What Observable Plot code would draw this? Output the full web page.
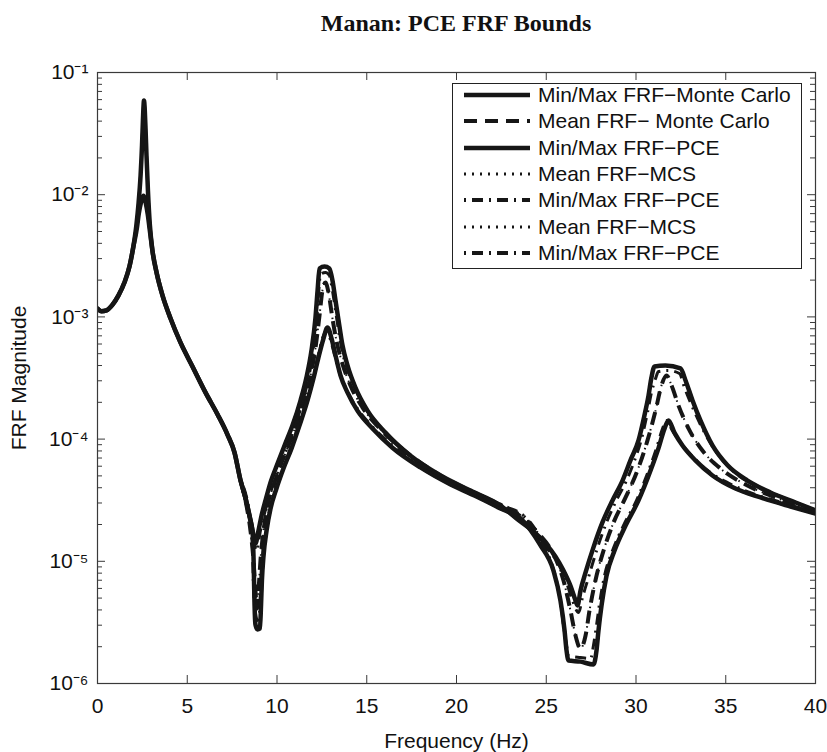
<!DOCTYPE html>
<html><head><meta charset="utf-8">
<script src="https://cdn.jsdelivr.net/npm/d3@7"></script>
<script src="https://cdn.jsdelivr.net/npm/@observablehq/plot@0.6"></script>
<style>
body{margin:0;background:#fff;}
#wrap{position:relative;width:827px;height:752px;overflow:hidden;background:#fff;font-family:'Liberation Sans',Arial,sans-serif;color:#111;}
#chart{position:absolute;left:0;top:0;}
#title{position:absolute;left:0;top:10px;width:912px;text-align:center;font:bold 24px 'Liberation Serif','Times New Roman',serif;color:#111;white-space:nowrap;}
#legend{position:absolute;left:452px;top:83px;width:350px;height:186px;border:1px solid #222;background:#fff;box-sizing:border-box;}
.lrow{position:absolute;left:0;height:26px;width:348px;}
.lrow svg{position:absolute;left:10px;top:0;}
.lrow span{position:absolute;left:85px;top:0;line-height:26px;font-size:21px;white-space:nowrap;}
</style></head>
<body><div id="wrap"><div id="chart"></div><div id="title">Manan: PCE FRF Bounds</div><div id="legend"></div></div>
<script>
// ---- data (frequency in Hz, FRF magnitude) ----
const headF = [0, 0.22, 0.5, 0.84, 1.17, 1.5, 1.78, 2.0];
const headM = [1.17e-3, 1.11e-3, 1.13e-3, 1.26e-3, 1.5e-3, 1.91e-3, 2.58e-3, 3.77e-3];

const peakMaxF = [2.17, 2.28, 2.40, 2.48, 2.53, 2.59, 2.67, 2.73, 2.81, 2.92];
const peakMaxM = [5.7e-3, 8.3e-3, 1.44e-2, 2.53e-2, 4.05e-2, 5.9e-2, 3.68e-2, 2.09e-2, 1.08e-2, 5.6e-3];

const peakMinF = [2.2, 2.3, 2.42, 2.56, 2.7, 2.8, 2.9];
const peakMinM = [5.4e-3, 7.0e-3, 8.6e-3, 9.8e-3, 8.4e-3, 6.9e-3, 5.3e-3];

const slopeF = [3.06, 3.29, 3.62, 4.07, 4.62, 5.29, 6.02, 6.69, 7.24, 7.63];
const slopeM = [3.49e-3, 2.31e-3, 1.50e-3, 9.7e-4, 6.18e-4, 3.93e-4, 2.40e-4, 1.59e-4, 1.09e-4, 7.8e-5];

const maxF = [7.97, 8.25, 8.47, 8.64, 8.80, 8.97, 9.14, 9.36, 9.64, 10.03, 10.42, 10.86, 11.31, 11.64, 11.92, 12.14, 12.26, 12.37, 12.65, 12.92, 13.09, 13.26, 13.43, 13.65, 13.93, 14.37, 15.04, 16.04, 17.44, 19.11, 20.78, 22.45, 23.34, 24.29, 24.96, 25.52, 25.96, 26.35, 26.63, 26.74, 26.91, 27.19, 27.63, 28.13, 28.69, 29.25, 29.69, 30.14, 30.47, 30.70, 30.86, 31.03, 31.64, 32.48, 32.76, 33.15, 33.59, 34.26, 35.10, 36.21, 37.49, 38.89, 40];
const maxM = [4.58e-5, 3.27e-5, 2.37e-5, 1.79e-5, 1.40e-5, 1.79e-5, 2.37e-5, 3.15e-5, 4.42e-5, 6.3e-5, 8.87e-5, 1.29e-4, 2.07e-4, 3.19e-4, 5.3e-4, 9.7e-4, 1.64e-3, 2.49e-3, 2.58e-3, 2.49e-3, 1.99e-3, 1.36e-3, 9.35e-4, 5.83e-4, 4.0e-4, 2.64e-4, 1.71e-4, 1.13e-4, 7.3e-5, 5.04e-5, 3.79e-5, 2.86e-5, 2.24e-5, 1.75e-5, 1.40e-5, 1.09e-5, 8.4e-6, 6.3e-6, 4.78e-6, 4.35e-6, 5.77e-6, 8.1e-6, 1.30e-5, 2.08e-5, 3.15e-5, 4.58e-5, 6.7e-5, 9.75e-5, 1.56e-4, 2.28e-4, 3.19e-4, 3.93e-4, 4.0e-4, 3.79e-4, 3.02e-4, 2.07e-4, 1.42e-4, 8.87e-5, 6.1e-5, 4.58e-5, 3.66e-5, 3.03e-5, 2.61e-5];

const minF = [7.97, 8.25, 8.47, 8.64, 8.69, 8.72, 8.75, 8.80, 8.91, 9.05, 9.11, 9.16, 9.25, 9.42, 9.64, 9.97, 10.36, 10.81, 11.25, 11.70, 12.03, 12.31, 12.59, 12.81, 13.04, 13.26, 13.54, 13.93, 14.48, 15.32, 16.43, 17.99, 19.67, 21.34, 22.45, 23.57, 24.68, 25.40, 25.79, 26.02, 26.13, 26.24, 26.91, 27.63, 27.80, 27.91, 28.08, 28.36, 28.80, 29.42, 30.14, 30.81, 31.25, 31.59, 31.81, 32.14, 32.59, 33.31, 34.26, 35.54, 36.94, 38.61, 40];
const minM = [4.58e-5, 3.27e-5, 2.33e-5, 1.72e-5, 1.11e-5, 6.97e-6, 4.35e-6, 3.04e-6, 2.77e-6, 2.82e-6, 4.35e-6, 6.97e-6, 1.11e-5, 1.79e-5, 2.70e-5, 3.94e-5, 5.74e-5, 8.4e-5, 1.29e-4, 2.07e-4, 3.13e-4, 4.66e-4, 6.65e-4, 8.2e-4, 6.65e-4, 4.83e-4, 3.31e-4, 2.40e-4, 1.71e-4, 1.22e-4, 8.5e-5, 5.86e-5, 4.25e-5, 3.27e-5, 2.70e-5, 2.24e-5, 1.35e-5, 8.4e-6, 4.78e-6, 2.72e-6, 1.86e-6, 1.54e-6, 1.51e-6, 1.43e-6, 1.86e-6, 2.72e-6, 4.35e-6, 7.66e-6, 1.22e-5, 1.96e-5, 3.15e-5, 5.53e-5, 8.4e-5, 1.22e-4, 1.42e-4, 1.13e-4, 8.87e-5, 6.7e-5, 5.04e-5, 3.94e-5, 3.33e-5, 2.81e-5, 2.46e-5];

const meanF = [7.97, 8.30, 8.52, 8.69, 8.80, 8.89, 8.97, 9.08, 9.25, 9.47, 9.81, 10.20, 10.64, 11.09, 11.53, 11.87, 12.14, 12.37, 12.53, 12.70, 12.87, 13.09, 13.31, 13.59, 14.09, 14.76, 15.77, 17.16, 18.83, 20.50, 22.17, 23.57, 24.57, 25.35, 25.96, 26.35, 26.63, 26.91, 27.19, 27.41, 27.74, 28.19, 28.75, 29.42, 30.08, 30.64, 31.09, 31.42, 31.70, 31.98, 32.37, 32.93, 33.70, 34.71, 36.10, 37.77, 40];
const meanM = [4.58e-5, 2.86e-5, 1.79e-5, 1.02e-5, 5.77e-6, 4.11e-6, 5.77e-6, 1.02e-5, 1.79e-5, 2.86e-5, 4.17e-5, 6.1e-5, 8.87e-5, 1.34e-4, 2.15e-4, 3.31e-4, 5.51e-4, 1.03e-3, 1.64e-3, 1.91e-3, 1.58e-3, 9.7e-4, 6.4e-4, 4.4e-4, 2.75e-4, 1.82e-4, 1.20e-4, 7.9e-5, 5.33e-5, 3.94e-5, 3.03e-5, 2.33e-5, 1.69e-5, 1.18e-5, 6.97e-6, 3.95e-6, 2.47e-6, 1.93e-6, 2.47e-6, 3.95e-6, 6.97e-6, 1.22e-5, 2.08e-5, 3.33e-5, 5.53e-5, 9.75e-5, 1.71e-4, 2.75e-4, 3.31e-4, 2.75e-4, 1.88e-4, 1.22e-4, 8.07e-5, 5.74e-5, 4.25e-5, 3.33e-5, 2.55e-5];

const pceMaxF = [7.97, 8.52, 8.86, 9.08, 9.42, 10.08, 10.92, 11.36, 11.70, 11.98, 12.20, 12.31, 12.42, 12.70, 12.92, 13.09, 13.26, 13.43, 13.65, 13.98, 14.48, 15.21, 16.32, 17.72, 19.39, 21.06, 22.73, 24.12, 24.96, 25.63, 26.13, 26.46, 26.80, 27.02, 27.35, 27.80, 28.36, 28.91, 29.47, 29.92, 30.31, 30.64, 30.86, 31.09, 31.25, 31.81, 32.42, 32.70, 33.15, 33.70, 34.48, 35.38, 36.49, 37.94, 40];
const pceMaxM = [4.50e-5, 2.08e-5, 1.22e-5, 1.79e-5, 2.86e-5, 5.53e-5, 1.17e-4, 1.88e-4, 2.90e-4, 4.83e-4, 9.0e-4, 1.50e-3, 2.22e-3, 2.31e-3, 2.18e-3, 1.64e-3, 1.13e-3, 7.7e-4, 5.1e-4, 3.51e-4, 2.36e-4, 1.56e-4, 1.03e-4, 6.8e-5, 4.76e-5, 3.59e-5, 2.75e-5, 2.08e-5, 1.32e-5, 9.8e-6, 6.7e-6, 4.78e-6, 3.81e-6, 5.06e-6, 7.36e-6, 1.22e-5, 2.08e-5, 3.15e-5, 4.58e-5, 6.7e-5, 1.01e-4, 1.65e-4, 2.40e-4, 3.13e-4, 3.57e-4, 3.64e-4, 3.44e-4, 2.64e-4, 1.82e-4, 1.22e-4, 7.8e-5, 5.53e-5, 4.25e-5, 3.39e-5, 2.61e-5];

const pceMinF = [7.97, 8.52, 8.64, 8.69, 8.80, 8.91, 9.03, 9.08, 9.19, 9.36, 9.64, 9.97, 10.36, 10.81, 11.25, 11.70, 12.03, 12.31, 12.53, 12.76, 12.98, 13.20, 13.48, 13.87, 14.43, 15.26, 16.38, 17.99, 19.67, 21.34, 22.73, 23.84, 24.68, 25.35, 25.74, 25.96, 26.13, 26.24, 26.91, 27.47, 27.63, 27.80, 27.97, 28.25, 28.69, 29.30, 30.03, 30.70, 31.14, 31.48, 31.70, 32.03, 32.48, 33.20, 34.15, 35.43, 36.82, 38.50, 40];
const pceMinM = [4.58e-5, 2.16e-5, 1.22e-5, 6.3e-6, 3.81e-6, 3.28e-6, 3.81e-6, 6.3e-6, 1.11e-5, 1.79e-5, 2.81e-5, 4.09e-5, 5.97e-5, 8.87e-5, 1.37e-4, 2.19e-4, 3.31e-4, 4.92e-4, 6.65e-4, 7.7e-4, 6.5e-4, 4.92e-4, 3.51e-4, 2.55e-4, 1.82e-4, 1.29e-4, 9.04e-5, 6.2e-5, 4.50e-5, 3.45e-5, 2.81e-5, 2.28e-5, 1.48e-5, 9.06e-6, 5.25e-6, 2.99e-6, 2.05e-6, 1.69e-6, 1.63e-6, 1.60e-6, 2.05e-6, 2.99e-6, 4.52e-6, 7.66e-6, 1.22e-5, 1.96e-5, 3.15e-5, 5.53e-5, 8.4e-5, 1.22e-4, 1.42e-4, 1.17e-4, 9.38e-5, 7.06e-5, 5.33e-5, 4.17e-5, 3.45e-5, 2.92e-5, 2.46e-5];

const xTicks = [0, 5, 10, 15, 20, 25, 30, 35, 40];
const yTicks = [1e-6, 1e-5, 1e-4, 1e-3, 1e-2, 1e-1];
const legendLabels = ["Min/Max FRF\u2212Monte Carlo", "Mean FRF\u2212 Monte Carlo", "Min/Max FRF\u2212PCE", "Mean FRF\u2212MCS", "Min/Max FRF\u2212PCE", "Mean FRF\u2212MCS", "Min/Max FRF\u2212PCE"];

// ---- build ----
function rows(fs, ms) { const n = Math.min(fs.length, ms.length); return d3.range(n).map(i => ({f: fs[i], m: ms[i]})); }
const maxRows = [...rows(headF, headM), ...rows(peakMaxF, peakMaxM), ...rows(slopeF, slopeM), ...rows(maxF, maxM)];
const minRows = [...rows(headF, headM), ...rows(peakMinF, peakMinM), ...rows(slopeF, slopeM), ...rows(minF, minM)];
const meanRows = rows(meanF, meanM);
const pceMaxRows = rows(pceMaxF, pceMaxM);
const pceMinRows = rows(pceMinF, pceMinM);

const styles = {
  solid: {strokeWidth: 4.5, dash: null},
  dashed: {strokeWidth: 4, dash: "13,8"},
  solidThin: {strokeWidth: 3, dash: null},
  dotted: {strokeWidth: 2, dash: "1.5,5"},
  dashdot: {strokeWidth: 3, dash: "2,6,11,6"}
};
const legendStyles = ["solid", "dashed", "solid", "dotted", "dashdot", "dotted", "dashdot"];

const W = 827, H = 752, mT = 72, mB = 69, mL = 97, mR = 12;
const innerW = W - mL - mR, innerH = H - mT - mB;
const yMinor = yTicks.slice(0, -1).flatMap(p => d3.range(2, 10).map(j => j * p));
const sup = {"-": "\u207B", "0": "\u2070", "1": "\u00B9", "2": "\u00B2", "3": "\u00B3", "4": "\u2074", "5": "\u2075", "6": "\u2076", "7": "\u2077", "8": "\u2078", "9": "\u2079"};
const fmtY = d => "10" + String(Math.round(Math.log10(d))).split("").map(c => sup[c]).join("");

const base = {x: "f", y: "m", curve: "monotone-x", stroke: "#161616", clip: true, strokeLinejoin: "round"};
function ln(data, st) {
  const s = styles[st];
  return Plot.line(data, {...base, strokeWidth: s.strokeWidth, strokeDasharray: s.dash || undefined, strokeLinecap: s.dash ? "butt" : "round"});
}
const tc = "#3a3a3a";
const chart = Plot.plot({
  width: W, height: H, marginTop: mT, marginBottom: mB, marginLeft: mL, marginRight: mR,
  style: {fontFamily: "'Liberation Sans', Arial, sans-serif", fontSize: "21px", background: "#fff", color: "#111"},
  x: {domain: [0, 40]},
  y: {type: "log", domain: [1e-6, 1e-1]},
  marks: [
    ln(maxRows, "solid"), ln(minRows, "solid"),
    ln(maxRows, "solidThin"), ln(minRows, "solidThin"),
    ln(meanRows, "dashed"),
    ln(meanRows, "dotted"),
    ln(pceMaxRows, "dashdot"), ln(pceMinRows, "dashdot"),
    Plot.frame({stroke: tc, strokeWidth: 1.2}),
    Plot.tickX(xTicks, {x: d => d, insetTop: innerH - 8, stroke: tc}),
    Plot.tickX(xTicks, {x: d => d, insetBottom: innerH - 8, stroke: tc}),
    Plot.tickY(yTicks, {y: d => d, insetRight: innerW - 8, stroke: tc}),
    Plot.tickY(yTicks, {y: d => d, insetLeft: innerW - 8, stroke: tc}),
    Plot.tickY(yMinor, {y: d => d, insetRight: innerW - 5, stroke: tc}),
    Plot.tickY(yMinor, {y: d => d, insetLeft: innerW - 5, stroke: tc}),
    Plot.axisX({ticks: xTicks, tickSize: 0, tickPadding: 15, fontSize: 21, tickFormat: d => String(d),
      label: "Frequency (Hz)", labelAnchor: "center", labelOffset: 64, labelArrow: "none"}),
    Plot.axisY({ticks: yTicks, tickSize: 0, tickPadding: 9, fontSize: 21, tickFormat: fmtY,
      label: "FRF Magnitude", labelAnchor: "center", labelOffset: 86, labelArrow: "none"})
  ]
});
document.getElementById("chart").appendChild(chart);

// legend
const leg = d3.select("#legend");
legendLabels.forEach((lab, i) => {
  const st = legendStyles[i], s = styles[st];
  const w = st === "solid" ? 4.5 : st === "dashdot" ? 4 : st === "dotted" ? 3 : s.strokeWidth;
  const dash = st === "dotted" ? "2,6" : s.dash;
  const row = leg.append("div").attr("class", "lrow").style("top", (-2 + i * 26.3) + "px");
  const svg = row.append("svg").attr("width", 68).attr("height", 26);
  svg.append("line").attr("x1", 1).attr("x2", 67).attr("y1", 13).attr("y2", 13)
    .attr("stroke", "#161616").attr("stroke-width", w)
    .attr("stroke-dasharray", dash || null);
  row.append("span").text(lab);
});
</script>
</body></html>
